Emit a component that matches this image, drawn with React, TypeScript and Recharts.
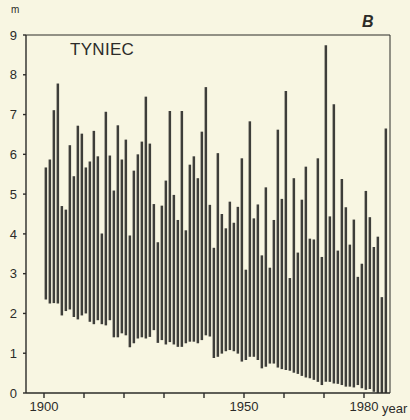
import React from 'react';
import { ComposedChart, Bar, XAxis, YAxis, ReferenceLine } from 'recharts';

const years = [
  1900, 1901, 1902, 1903, 1904, 1905, 1906, 1907, 1908, 1909,
  1910, 1911, 1912, 1913, 1914, 1915, 1916, 1917, 1918, 1919,
  1920, 1921, 1922, 1923, 1924, 1925, 1926, 1927, 1928, 1929,
  1930, 1931, 1932, 1933, 1934, 1935, 1936, 1937, 1938, 1939,
  1940, 1941, 1942, 1943, 1944, 1945, 1946, 1947, 1948, 1949,
  1950, 1951, 1952, 1953, 1954, 1955, 1956, 1957, 1958, 1959,
  1960, 1961, 1962, 1963, 1964, 1965, 1966, 1967, 1968, 1969,
  1970, 1971, 1972, 1973, 1974, 1975, 1976, 1977, 1978, 1979,
  1980, 1981, 1982, 1983, 1984, 1985,
];

const maxLevel = [
  5.67, 5.87, 7.11, 7.78, 4.70, 4.61, 6.23, 5.45, 6.72, 6.52,
  5.67, 5.82, 6.59, 5.95, 4.01, 7.07, 5.97, 5.09, 6.73, 5.87,
  6.37, 3.96, 5.59, 6.00, 6.32, 7.45, 6.27, 4.75, 3.79, 4.71,
  5.34, 7.09, 4.98, 4.35, 7.09, 4.09, 5.74, 5.95, 5.40, 6.57,
  7.69, 4.73, 3.65, 6.03, 4.50, 4.14, 4.81, 4.28, 4.68, 5.90,
  3.10, 6.83, 4.39, 4.74, 3.46, 5.17, 3.15, 4.35, 6.62, 4.88,
  7.59, 2.89, 5.40, 3.53, 4.86, 5.69, 3.88, 3.86, 5.90, 3.42,
  8.74, 4.44, 7.26, 3.58, 5.38, 4.67, 3.73, 4.36, 2.92, 3.25,
  5.08, 4.42, 3.67, 3.93, 2.41, 6.65,
];

const minLevel = [
  2.35, 2.25, 2.26, 2.25, 1.95, 2.06, 2.10, 1.91, 1.85, 1.95,
  2.00, 1.79, 1.73, 1.83, 1.73, 1.70, 1.83, 1.40, 1.40, 1.50,
  1.45, 1.15, 1.25, 1.37, 1.40, 1.37, 1.41, 1.58, 1.26, 1.33,
  1.22, 1.28, 1.22, 1.16, 1.16, 1.25, 1.29, 1.29, 1.25, 1.33,
  1.45, 1.42, 0.88, 0.91, 0.99, 1.05, 1.08, 1.05, 0.99, 0.79,
  0.83, 0.91, 0.91, 0.83, 0.62, 0.66, 0.74, 0.74, 0.64, 0.60,
  0.58, 0.56, 0.51, 0.48, 0.43, 0.39, 0.37, 0.33, 0.28, 0.20,
  0.28, 0.28, 0.24, 0.23, 0.20, 0.16, 0.16, 0.14, 0.20, 0.12,
  0.08, 0.10, 0.03, 0.00, 0.00, 0.00,
];

const yTicks = [0, 1, 2, 3, 4, 5, 6, 7, 8, 9];
const xTicks = [1900, 1910, 1920, 1930, 1940, 1950, 1960, 1970, 1980];
const xLabelled = [1900, 1950, 1980];

const data = years.map((y, i) => ({
  year: y,
  pos: y + 0.4,
  range: [minLevel[i], maxLevel[i]],
}));

const FONT = '"Liberation Sans", Arial, sans-serif';
const INK = '#2c2c29';
const BG = '#f8f6e2';

export default function App() {
  return (
    <div
      style={{
        position: 'fixed',
        left: 0,
        top: 0,
        width: 410,
        height: 420,
        background: BG,
        fontFamily: FONT,
        overflow: 'hidden',
      }}
    >
      <ComposedChart
        width={410}
        height={420}
        data={data}
        margin={{ top: 35, right: 20, bottom: 0, left: 0 }}
      >
        <XAxis
          dataKey="pos"
          type="number"
          domain={[1895.5, 1986.5]}
          ticks={xTicks}
          tickFormatter={(v: number) => (xLabelled.includes(v) ? String(v) : '')}
          tickSize={5}
          tickMargin={4}
          height={27}
          allowDataOverflow
          stroke={INK}
          strokeWidth={1.4}
          tick={{ fill: INK, fontSize: 13, fontFamily: FONT }}
        />
        <YAxis
          type="number"
          domain={[0, 9]}
          ticks={yTicks}
          width={26}
          tickSize={3}
          tickMargin={6}
          stroke={INK}
          strokeWidth={1.4}
          tick={{ fill: INK, fontSize: 13, fontFamily: FONT }}
        />
        <ReferenceLine y={9} stroke={INK} strokeWidth={1} />
        <ReferenceLine x={1986.5} stroke={INK} strokeWidth={1} />
        <Bar dataKey="range" fill="#3e3e3a" barSize={2.5} isAnimationActive={false} />
      </ComposedChart>
      <span style={{ position: 'absolute', left: 11, top: 4, fontSize: 10, color: INK }}>m</span>
      <span
        style={{
          position: 'absolute',
          left: 70,
          top: 40,
          fontSize: 17,
          letterSpacing: 0.3,
          color: INK,
        }}
      >
        TYNIEC
      </span>
      <span
        style={{
          position: 'absolute',
          left: 362,
          top: 13,
          fontSize: 16,
          fontStyle: 'italic',
          fontWeight: 'bold',
          color: INK,
        }}
      >
        B
      </span>
      <span style={{ position: 'absolute', left: 382, top: 401, fontSize: 13, color: INK }}>year</span>
    </div>
  );
}
